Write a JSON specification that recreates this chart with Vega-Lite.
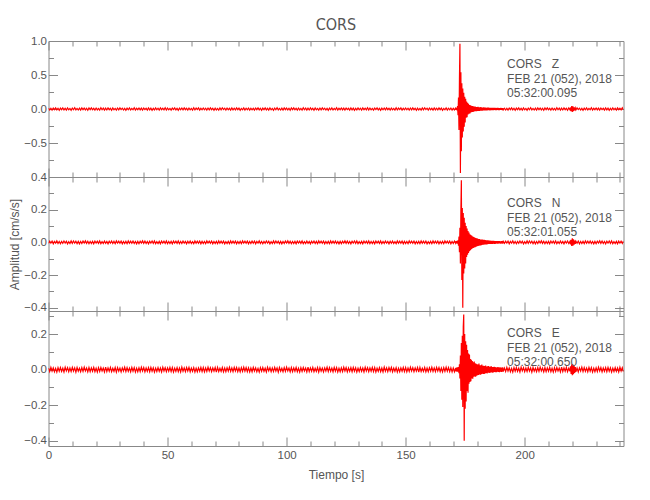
{
"$schema":"https://vega.github.io/schema/vega-lite/v6.json",
"padding":{"left":7.5,"top":16,"right":5,"bottom":5},
"background":"white",
"bounds":"flush",
"spacing":0,
"datasets":{
"w":[
{"t":0,"z":0.012,"n":-0.006,"e":0.009},{"t":0.5,"z":-0.015,"n":0.007,"e":-0.011},{"t":1,"z":0.009,"n":-0.005,"e":0.013},{"t":1.5,"z":-0.017,"n":0.008,"e":-0.008},{"t":2,"z":0.014,"n":-0.009,"e":0.010},{"t":2.5,"z":-0.010,"n":0.006,"e":-0.012},{"t":3,"z":0.016,"n":-0.004,"e":0.007},{"t":3.5,"z":-0.013,"n":0.009,"e":-0.014},{"t":4,"z":0.011,"n":-0.007,"e":0.011},{"t":4.5,"z":-0.018,"n":0.005,"e":-0.009},
{"t":5,"z":0.013,"n":-0.008,"e":0.012},{"t":5.5,"z":-0.009,"n":0.006,"e":-0.010},{"t":6,"z":0.017,"n":-0.006,"e":0.008},{"t":6.5,"z":-0.014,"n":0.008,"e":-0.013},{"t":7,"z":0.010,"n":-0.005,"e":0.014},{"t":7.5,"z":-0.016,"n":0.007,"e":-0.007},{"t":8,"z":0.015,"n":-0.009,"e":0.011},{"t":8.5,"z":-0.012,"n":0.004,"e":-0.012},{"t":9,"z":0.008,"n":-0.007,"e":0.009},{"t":9.5,"z":-0.019,"n":0.009,"e":-0.011},
{"t":10,"z":0.014,"n":-0.006,"e":0.013},{"t":10.5,"z":-0.011,"n":0.008,"e":-0.008},{"t":11,"z":0.018,"n":-0.005,"e":0.010},{"t":11.5,"z":-0.013,"n":0.007,"e":-0.014},{"t":12,"z":0.009,"n":-0.008,"e":0.012},{"t":12.5,"z":-0.015,"n":0.006,"e":-0.009},{"t":13,"z":0.012,"n":-0.009,"e":0.008},{"t":13.5,"z":-0.017,"n":0.005,"e":-0.012},{"t":14,"z":0.016,"n":-0.007,"e":0.011},{"t":14.5,"z":-0.010,"n":0.008,"e":-0.010},
{"t":15,"z":0.013,"n":-0.004,"e":0.014},{"t":15.5,"z":-0.014,"n":0.009,"e":-0.008},{"t":16,"z":0.011,"n":-0.006,"e":0.009},{"t":16.5,"z":-0.018,"n":0.007,"e":-0.013},{"t":17,"z":0.015,"n":-0.008,"e":0.012},{"t":17.5,"z":-0.009,"n":0.005,"e":-0.011},{"t":18,"z":0.017,"n":-0.007,"e":0.010},{"t":18.5,"z":-0.012,"n":0.006,"e":-0.009},{"t":19,"z":0.010,"n":-0.009,"e":0.013},{"t":19.5,"z":-0.016,"n":0.008,"e":-0.012},
{"t":20,"z":0.014,"n":-0.005,"e":0.008},{"t":20.5,"z":-0.013,"n":0.007,"e":-0.014},{"t":21,"z":0.009,"n":-0.006,"e":0.011},{"t":21.5,"z":-0.015,"n":0.009,"e":-0.010},{"t":22,"z":0.018,"n":-0.008,"e":0.012},{"t":22.5,"z":-0.011,"n":0.004,"e":-0.008},{"t":23,"z":0.012,"n":-0.007,"e":0.009},{"t":23.5,"z":-0.017,"n":0.008,"e":-0.013},{"t":24,"z":0.013,"n":-0.006,"e":0.014},{"t":24.5,"z":-0.014,"n":0.005,"e":-0.011},
{"t":25,"z":0.016,"n":-0.009,"e":0.010},{"t":25.5,"z":-0.010,"n":0.007,"e":-0.009},{"t":26,"z":0.011,"n":-0.005,"e":0.013},{"t":26.5,"z":-0.019,"n":0.008,"e":-0.012},{"t":27,"z":0.015,"n":-0.007,"e":0.008},{"t":27.5,"z":-0.012,"n":0.006,"e":-0.010},{"t":28,"z":0.008,"n":-0.008,"e":0.012},{"t":28.5,"z":-0.016,"n":0.009,"e":-0.014},{"t":29,"z":0.014,"n":-0.004,"e":0.011},{"t":29.5,"z":-0.013,"n":0.007,"e":-0.009},
{"t":30,"z":0.017,"n":-0.006,"e":0.009},{"t":30.5,"z":-0.009,"n":0.008,"e":-0.013},{"t":31,"z":0.012,"n":-0.009,"e":0.010},{"t":31.5,"z":-0.015,"n":0.005,"e":-0.008},{"t":32,"z":0.010,"n":-0.007,"e":0.014},{"t":32.5,"z":-0.018,"n":0.006,"e":-0.011},{"t":33,"z":0.013,"n":-0.008,"e":0.012},{"t":33.5,"z":-0.011,"n":0.009,"e":-0.010},{"t":34,"z":0.016,"n":-0.005,"e":0.009},{"t":34.5,"z":-0.014,"n":0.007,"e":-0.012},
{"t":35,"z":0.009,"n":-0.006,"e":0.013},{"t":35.5,"z":-0.012,"n":0.008,"e":-0.009},{"t":36,"z":0.018,"n":-0.007,"e":0.011},{"t":36.5,"z":-0.016,"n":0.005,"e":-0.014},{"t":37,"z":0.011,"n":-0.009,"e":0.008},{"t":37.5,"z":-0.010,"n":0.006,"e":-0.012},{"t":38,"z":0.015,"n":-0.008,"e":0.010},{"t":38.5,"z":-0.013,"n":0.007,"e":-0.011},{"t":39,"z":0.012,"n":-0.004,"e":0.014},{"t":39.5,"z":-0.017,"n":0.009,"e":-0.008},
{"t":40,"z":0.014,"n":-0.006,"e":0.012},{"t":40.5,"z":-0.009,"n":0.008,"e":-0.013},{"t":41,"z":0.010,"n":-0.007,"e":0.009},{"t":41.5,"z":-0.015,"n":0.005,"e":-0.010},{"t":42,"z":0.017,"n":-0.009,"e":0.011},{"t":42.5,"z":-0.012,"n":0.007,"e":-0.012},{"t":43,"z":0.013,"n":-0.005,"e":0.013},{"t":43.5,"z":-0.018,"n":0.008,"e":-0.009},{"t":44,"z":0.009,"n":-0.006,"e":0.010},{"t":44.5,"z":-0.014,"n":0.009,"e":-0.014},
{"t":45,"z":0.016,"n":-0.008,"e":0.008},{"t":45.5,"z":-0.011,"n":0.004,"e":-0.011},{"t":46,"z":0.012,"n":-0.007,"e":0.012},{"t":46.5,"z":-0.016,"n":0.006,"e":-0.010},{"t":47,"z":0.015,"n":-0.009,"e":0.009},{"t":47.5,"z":-0.010,"n":0.008,"e":-0.013},{"t":48,"z":0.011,"n":-0.005,"e":0.014},{"t":48.5,"z":-0.013,"n":0.007,"e":-0.008},{"t":49,"z":0.018,"n":-0.006,"e":0.011},{"t":49.5,"z":-0.015,"n":0.009,"e":-0.012},
{"t":50,"z":0.014,"n":-0.008,"e":0.010},{"t":50.5,"z":-0.012,"n":0.005,"e":-0.009},{"t":51,"z":0.008,"n":-0.007,"e":0.013},{"t":51.5,"z":-0.017,"n":0.006,"e":-0.011},{"t":52,"z":0.013,"n":-0.009,"e":0.012},{"t":52.5,"z":-0.009,"n":0.008,"e":-0.014},{"t":53,"z":0.016,"n":-0.004,"e":0.008},{"t":53.5,"z":-0.014,"n":0.007,"e":-0.010},{"t":54,"z":0.010,"n":-0.006,"e":0.011},{"t":54.5,"z":-0.018,"n":0.009,"e":-0.012},
{"t":55,"z":0.012,"n":-0.008,"e":0.009},{"t":55.5,"z":-0.011,"n":0.005,"e":-0.013},{"t":56,"z":0.015,"n":-0.007,"e":0.014},{"t":56.5,"z":-0.013,"n":0.008,"e":-0.009},{"t":57,"z":0.017,"n":-0.005,"e":0.010},{"t":57.5,"z":-0.010,"n":0.006,"e":-0.011},{"t":58,"z":0.011,"n":-0.009,"e":0.012},{"t":58.5,"z":-0.016,"n":0.007,"e":-0.008},{"t":59,"z":0.014,"n":-0.006,"e":0.013},{"t":59.5,"z":-0.012,"n":0.008,"e":-0.012},
{"t":60,"z":0.009,"n":-0.007,"e":0.009},{"t":60.5,"z":-0.015,"n":0.004,"e":-0.010},{"t":61,"z":0.018,"n":-0.008,"e":0.011},{"t":61.5,"z":-0.014,"n":0.009,"e":-0.014},{"t":62,"z":0.013,"n":-0.005,"e":0.008},{"t":62.5,"z":-0.009,"n":0.007,"e":-0.012},{"t":63,"z":0.016,"n":-0.006,"e":0.010},{"t":63.5,"z":-0.017,"n":0.008,"e":-0.009},{"t":64,"z":0.010,"n":-0.009,"e":0.013},{"t":64.5,"z":-0.012,"n":0.006,"e":-0.011},
{"t":65,"z":0.015,"n":-0.007,"e":0.012},{"t":65.5,"z":-0.011,"n":0.005,"e":-0.013},{"t":66,"z":0.012,"n":-0.008,"e":0.009},{"t":66.5,"z":-0.016,"n":0.009,"e":-0.010},{"t":67,"z":0.014,"n":-0.004,"e":0.014},{"t":67.5,"z":-0.013,"n":0.007,"e":-0.008},{"t":68,"z":0.017,"n":-0.006,"e":0.011},{"t":68.5,"z":-0.010,"n":0.008,"e":-0.012},{"t":69,"z":0.011,"n":-0.009,"e":0.010},{"t":69.5,"z":-0.018,"n":0.005,"e":-0.009},
{"t":70,"z":0.013,"n":-0.007,"e":0.012},{"t":70.5,"z":-0.014,"n":0.006,"e":-0.014},{"t":71,"z":0.009,"n":-0.008,"e":0.013},{"t":71.5,"z":-0.015,"n":0.009,"e":-0.011},{"t":72,"z":0.016,"n":-0.005,"e":0.008},{"t":72.5,"z":-0.012,"n":0.007,"e":-0.010},{"t":73,"z":0.018,"n":-0.006,"e":0.012},{"t":73.5,"z":-0.009,"n":0.008,"e":-0.013},{"t":74,"z":0.012,"n":-0.009,"e":0.009},{"t":74.5,"z":-0.017,"n":0.004,"e":-0.012},
{"t":75,"z":0.014,"n":-0.007,"e":0.011},{"t":75.5,"z":-0.011,"n":0.006,"e":-0.009},{"t":76,"z":0.010,"n":-0.008,"e":0.014},{"t":76.5,"z":-0.016,"n":0.009,"e":-0.010},{"t":77,"z":0.015,"n":-0.005,"e":0.010},{"t":77.5,"z":-0.013,"n":0.007,"e":-0.011},{"t":78,"z":0.011,"n":-0.006,"e":0.013},{"t":78.5,"z":-0.014,"n":0.008,"e":-0.008},{"t":79,"z":0.017,"n":-0.009,"e":0.012},{"t":79.5,"z":-0.010,"n":0.005,"e":-0.012},
{"t":80,"z":0.013,"n":-0.007,"e":0.009},{"t":80.5,"z":-0.018,"n":0.006,"e":-0.013},{"t":81,"z":0.009,"n":-0.008,"e":0.011},{"t":81.5,"z":-0.012,"n":0.009,"e":-0.010},{"t":82,"z":0.016,"n":-0.004,"e":0.014},{"t":82.5,"z":-0.015,"n":0.007,"e":-0.009},{"t":83,"z":0.012,"n":-0.006,"e":0.012},{"t":83.5,"z":-0.011,"n":0.008,"e":-0.011},{"t":84,"z":0.014,"n":-0.009,"e":0.010},{"t":84.5,"z":-0.016,"n":0.005,"e":-0.013},
{"t":85,"z":0.010,"n":-0.007,"e":0.009},{"t":85.5,"z":-0.013,"n":0.008,"e":-0.012},
{"t":86,"z":0.009,"n":-0.005,"e":0.013},{"t":86.5,"z":-0.017,"n":0.008,"e":-0.008},{"t":87,"z":0.014,"n":-0.009,"e":0.010},{"t":87.5,"z":-0.010,"n":0.006,"e":-0.012},{"t":88,"z":0.016,"n":-0.004,"e":0.007},{"t":88.5,"z":-0.013,"n":0.009,"e":-0.014},{"t":89,"z":0.011,"n":-0.007,"e":0.011},{"t":89.5,"z":-0.018,"n":0.005,"e":-0.009},
{"t":90,"z":0.013,"n":-0.008,"e":0.012},{"t":90.5,"z":-0.009,"n":0.006,"e":-0.010},{"t":91,"z":0.017,"n":-0.006,"e":0.008},{"t":91.5,"z":-0.014,"n":0.008,"e":-0.013},{"t":92,"z":0.010,"n":-0.005,"e":0.014},{"t":92.5,"z":-0.016,"n":0.007,"e":-0.007},{"t":93,"z":0.015,"n":-0.009,"e":0.011},{"t":93.5,"z":-0.012,"n":0.004,"e":-0.012},{"t":94,"z":0.008,"n":-0.007,"e":0.009},{"t":94.5,"z":-0.019,"n":0.009,"e":-0.011},
{"t":95,"z":0.014,"n":-0.006,"e":0.013},{"t":95.5,"z":-0.011,"n":0.008,"e":-0.008},{"t":96,"z":0.018,"n":-0.005,"e":0.010},{"t":96.5,"z":-0.013,"n":0.007,"e":-0.014},{"t":97,"z":0.009,"n":-0.008,"e":0.012},{"t":97.5,"z":-0.015,"n":0.006,"e":-0.009},{"t":98,"z":0.012,"n":-0.009,"e":0.008},{"t":98.5,"z":-0.017,"n":0.005,"e":-0.012},{"t":99,"z":0.016,"n":-0.007,"e":0.011},{"t":99.5,"z":-0.010,"n":0.008,"e":-0.010},
{"t":100,"z":0.013,"n":-0.004,"e":0.014},{"t":100.5,"z":-0.014,"n":0.009,"e":-0.008},{"t":101,"z":0.011,"n":-0.006,"e":0.009},{"t":101.5,"z":-0.018,"n":0.007,"e":-0.013},{"t":102,"z":0.015,"n":-0.008,"e":0.012},{"t":102.5,"z":-0.009,"n":0.005,"e":-0.011},{"t":103,"z":0.017,"n":-0.007,"e":0.010},{"t":103.5,"z":-0.012,"n":0.006,"e":-0.009},{"t":104,"z":0.010,"n":-0.009,"e":0.013},{"t":104.5,"z":-0.016,"n":0.008,"e":-0.012},
{"t":105,"z":0.014,"n":-0.005,"e":0.008},{"t":105.5,"z":-0.013,"n":0.007,"e":-0.014},{"t":106,"z":0.009,"n":-0.006,"e":0.011},{"t":106.5,"z":-0.015,"n":0.009,"e":-0.010},{"t":107,"z":0.018,"n":-0.008,"e":0.012},{"t":107.5,"z":-0.011,"n":0.004,"e":-0.008},{"t":108,"z":0.012,"n":-0.007,"e":0.009},{"t":108.5,"z":-0.017,"n":0.008,"e":-0.013},{"t":109,"z":0.013,"n":-0.006,"e":0.014},{"t":109.5,"z":-0.014,"n":0.005,"e":-0.011},
{"t":110,"z":0.016,"n":-0.009,"e":0.010},{"t":110.5,"z":-0.010,"n":0.007,"e":-0.009},{"t":111,"z":0.011,"n":-0.005,"e":0.013},{"t":111.5,"z":-0.019,"n":0.008,"e":-0.012},{"t":112,"z":0.015,"n":-0.007,"e":0.008},{"t":112.5,"z":-0.012,"n":0.006,"e":-0.010},{"t":113,"z":0.008,"n":-0.008,"e":0.012},{"t":113.5,"z":-0.016,"n":0.009,"e":-0.014},{"t":114,"z":0.014,"n":-0.004,"e":0.011},{"t":114.5,"z":-0.013,"n":0.007,"e":-0.009},
{"t":115,"z":0.017,"n":-0.006,"e":0.009},{"t":115.5,"z":-0.009,"n":0.008,"e":-0.013},{"t":116,"z":0.012,"n":-0.009,"e":0.010},{"t":116.5,"z":-0.015,"n":0.005,"e":-0.008},{"t":117,"z":0.010,"n":-0.007,"e":0.014},{"t":117.5,"z":-0.018,"n":0.006,"e":-0.011},{"t":118,"z":0.013,"n":-0.008,"e":0.012},{"t":118.5,"z":-0.011,"n":0.009,"e":-0.010},{"t":119,"z":0.016,"n":-0.005,"e":0.009},{"t":119.5,"z":-0.014,"n":0.007,"e":-0.012},
{"t":120,"z":0.009,"n":-0.006,"e":0.013},{"t":120.5,"z":-0.012,"n":0.008,"e":-0.009},{"t":121,"z":0.018,"n":-0.007,"e":0.011},{"t":121.5,"z":-0.016,"n":0.005,"e":-0.014},{"t":122,"z":0.011,"n":-0.009,"e":0.008},{"t":122.5,"z":-0.010,"n":0.006,"e":-0.012},{"t":123,"z":0.015,"n":-0.008,"e":0.010},{"t":123.5,"z":-0.013,"n":0.007,"e":-0.011},{"t":124,"z":0.012,"n":-0.004,"e":0.014},{"t":124.5,"z":-0.017,"n":0.009,"e":-0.008},
{"t":125,"z":0.014,"n":-0.006,"e":0.012},{"t":125.5,"z":-0.009,"n":0.008,"e":-0.013},{"t":126,"z":0.010,"n":-0.007,"e":0.009},{"t":126.5,"z":-0.015,"n":0.005,"e":-0.010},{"t":127,"z":0.017,"n":-0.009,"e":0.011},{"t":127.5,"z":-0.012,"n":0.007,"e":-0.012},{"t":128,"z":0.013,"n":-0.005,"e":0.013},{"t":128.5,"z":-0.018,"n":0.008,"e":-0.009},{"t":129,"z":0.009,"n":-0.006,"e":0.010},{"t":129.5,"z":-0.014,"n":0.009,"e":-0.014},
{"t":130,"z":0.016,"n":-0.008,"e":0.008},{"t":130.5,"z":-0.011,"n":0.004,"e":-0.011},{"t":131,"z":0.012,"n":-0.007,"e":0.012},{"t":131.5,"z":-0.016,"n":0.006,"e":-0.010},{"t":132,"z":0.015,"n":-0.009,"e":0.009},{"t":132.5,"z":-0.010,"n":0.008,"e":-0.013},{"t":133,"z":0.011,"n":-0.005,"e":0.014},{"t":133.5,"z":-0.013,"n":0.007,"e":-0.008},{"t":134,"z":0.018,"n":-0.006,"e":0.011},{"t":134.5,"z":-0.015,"n":0.009,"e":-0.012},
{"t":135,"z":0.014,"n":-0.008,"e":0.010},{"t":135.5,"z":-0.012,"n":0.005,"e":-0.009},{"t":136,"z":0.008,"n":-0.007,"e":0.013},{"t":136.5,"z":-0.017,"n":0.006,"e":-0.011},{"t":137,"z":0.013,"n":-0.009,"e":0.012},{"t":137.5,"z":-0.009,"n":0.008,"e":-0.014},{"t":138,"z":0.016,"n":-0.004,"e":0.008},{"t":138.5,"z":-0.014,"n":0.007,"e":-0.010},{"t":139,"z":0.010,"n":-0.006,"e":0.011},{"t":139.5,"z":-0.018,"n":0.009,"e":-0.012},
{"t":140,"z":0.012,"n":-0.008,"e":0.009},{"t":140.5,"z":-0.011,"n":0.005,"e":-0.013},{"t":141,"z":0.015,"n":-0.007,"e":0.014},{"t":141.5,"z":-0.013,"n":0.008,"e":-0.009},{"t":142,"z":0.017,"n":-0.005,"e":0.010},{"t":142.5,"z":-0.010,"n":0.006,"e":-0.011},{"t":143,"z":0.011,"n":-0.009,"e":0.012},{"t":143.5,"z":-0.016,"n":0.007,"e":-0.008},{"t":144,"z":0.014,"n":-0.006,"e":0.013},{"t":144.5,"z":-0.012,"n":0.008,"e":-0.012},
{"t":145,"z":0.009,"n":-0.007,"e":0.009},{"t":145.5,"z":-0.015,"n":0.004,"e":-0.010},{"t":146,"z":0.018,"n":-0.008,"e":0.011},{"t":146.5,"z":-0.014,"n":0.009,"e":-0.014},{"t":147,"z":0.013,"n":-0.005,"e":0.008},{"t":147.5,"z":-0.009,"n":0.007,"e":-0.012},{"t":148,"z":0.016,"n":-0.006,"e":0.010},{"t":148.5,"z":-0.017,"n":0.008,"e":-0.009},{"t":149,"z":0.010,"n":-0.009,"e":0.013},{"t":149.5,"z":-0.012,"n":0.006,"e":-0.011},
{"t":150,"z":0.015,"n":-0.007,"e":0.012},{"t":150.5,"z":-0.011,"n":0.005,"e":-0.013},{"t":151,"z":0.012,"n":-0.008,"e":0.009},{"t":151.5,"z":-0.016,"n":0.009,"e":-0.010},{"t":152,"z":0.014,"n":-0.004,"e":0.014},{"t":152.5,"z":-0.013,"n":0.007,"e":-0.008},{"t":153,"z":0.017,"n":-0.006,"e":0.011},{"t":153.5,"z":-0.010,"n":0.008,"e":-0.012},{"t":154,"z":0.011,"n":-0.009,"e":0.010},{"t":154.5,"z":-0.018,"n":0.005,"e":-0.009},
{"t":155,"z":0.013,"n":-0.007,"e":0.012},{"t":155.5,"z":-0.014,"n":0.006,"e":-0.014},{"t":156,"z":0.009,"n":-0.008,"e":0.013},{"t":156.5,"z":-0.015,"n":0.009,"e":-0.011},{"t":157,"z":0.016,"n":-0.005,"e":0.008},{"t":157.5,"z":-0.012,"n":0.007,"e":-0.010},{"t":158,"z":0.018,"n":-0.006,"e":0.012},{"t":158.5,"z":-0.009,"n":0.008,"e":-0.013},{"t":159,"z":0.012,"n":-0.009,"e":0.009},{"t":159.5,"z":-0.017,"n":0.004,"e":-0.012},
{"t":160,"z":0.014,"n":-0.007,"e":0.011},{"t":160.5,"z":-0.011,"n":0.006,"e":-0.009},{"t":161,"z":0.010,"n":-0.008,"e":0.014},{"t":161.5,"z":-0.016,"n":0.009,"e":-0.010},{"t":162,"z":0.015,"n":-0.005,"e":0.010},{"t":162.5,"z":-0.013,"n":0.007,"e":-0.011},{"t":163,"z":0.011,"n":-0.006,"e":0.013},{"t":163.5,"z":-0.014,"n":0.008,"e":-0.008},{"t":164,"z":0.017,"n":-0.009,"e":0.012},{"t":164.5,"z":-0.010,"n":0.005,"e":-0.012},
{"t":165,"z":0.013,"n":-0.007,"e":0.009},{"t":165.5,"z":-0.018,"n":0.006,"e":-0.013},{"t":166,"z":0.009,"n":-0.008,"e":0.011},{"t":166.5,"z":-0.012,"n":0.009,"e":-0.010},{"t":167,"z":0.016,"n":-0.004,"e":0.014},{"t":167.5,"z":-0.015,"n":0.007,"e":-0.009},{"t":168,"z":0.012,"n":-0.006,"e":0.012},{"t":168.5,"z":-0.011,"n":0.008,"e":-0.011},{"t":169,"z":0.014,"n":-0.009,"e":0.010},{"t":169.5,"z":-0.016,"n":0.005,"e":-0.013},
{"t":170,"z":0.010,"n":-0.007,"e":0.009},{"t":170.5,"z":-0.013,"n":0.008,"e":-0.012},{"t":171,"z":0.012,"n":-0.006,"e":0.009},
{"t":171.2,"z":-0.014,"n":0.008,"e":-0.010},{"t":171.4,"z":0.016,"n":-0.007,"e":0.012},{"t":171.6,"z":-0.022,"n":0.009,"e":-0.011},{"t":171.8,"z":0.045,"n":-0.008,"e":0.013},{"t":172,"z":-0.090,"n":0.012,"e":-0.012},
{"t":172.2,"z":0.170,"n":-0.020,"e":0.015},{"t":172.4,"z":-0.310,"n":0.035,"e":-0.020},{"t":172.6,"z":0.450,"n":-0.060,"e":0.030},{"t":172.8,"z":0.960,"n":0.090,"e":-0.050},{"t":173,"z":-0.940,"n":-0.130,"e":0.080},
{"t":173.2,"z":0.540,"n":0.190,"e":-0.120},{"t":173.4,"z":-0.620,"n":0.380,"e":0.150},{"t":173.6,"z":0.380,"n":-0.230,"e":-0.170},{"t":173.8,"z":-0.420,"n":0.210,"e":0.190},{"t":174,"z":0.300,"n":-0.400,"e":-0.210},
{"t":174.2,"z":-0.330,"n":0.180,"e":0.240},{"t":174.4,"z":0.240,"n":-0.190,"e":0.310},{"t":174.6,"z":-0.260,"n":0.150,"e":-0.400},{"t":174.8,"z":0.180,"n":-0.160,"e":0.200},{"t":175,"z":-0.200,"n":0.120,"e":-0.220},
{"t":175.2,"z":0.150,"n":-0.130,"e":0.160},{"t":175.4,"z":-0.130,"n":0.100,"e":-0.180},{"t":175.6,"z":0.110,"n":-0.090,"e":0.140},{"t":175.8,"z":-0.120,"n":0.085,"e":-0.120},{"t":176,"z":0.090,"n":-0.075,"e":0.110},
{"t":176.2,"z":-0.080,"n":0.070,"e":-0.130},{"t":176.4,"z":0.075,"n":-0.065,"e":0.090},{"t":176.6,"z":-0.070,"n":0.060,"e":-0.080},{"t":176.8,"z":0.060,"n":-0.055,"e":0.085},{"t":177,"z":-0.065,"n":0.050,"e":-0.070},
{"t":177.2,"z":0.055,"n":-0.048,"e":0.060},{"t":177.4,"z":-0.050,"n":0.045,"e":-0.065},{"t":177.6,"z":0.048,"n":-0.042,"e":0.055},{"t":177.8,"z":-0.045,"n":0.040,"e":-0.050},{"t":178,"z":0.042,"n":-0.038,"e":0.048},
{"t":178.2,"z":-0.044,"n":0.036,"e":-0.052},{"t":178.4,"z":0.038,"n":-0.034,"e":0.042},{"t":178.6,"z":-0.040,"n":0.033,"e":-0.040},{"t":178.8,"z":0.036,"n":-0.031,"e":0.045},{"t":179,"z":-0.034,"n":0.030,"e":-0.038},
{"t":179.2,"z":0.035,"n":-0.029,"e":0.036},{"t":179.4,"z":-0.032,"n":0.027,"e":-0.040},{"t":179.6,"z":0.030,"n":-0.026,"e":0.033},{"t":179.8,"z":-0.033,"n":0.025,"e":-0.035},{"t":180,"z":0.029,"n":-0.024,"e":0.030},
{"t":180.2,"z":-0.028,"n":0.023,"e":-0.032},{"t":180.4,"z":0.031,"n":-0.022,"e":0.028},{"t":180.6,"z":-0.027,"n":0.021,"e":-0.030},{"t":180.8,"z":0.026,"n":-0.020,"e":0.034},{"t":181,"z":-0.029,"n":0.021,"e":-0.027},
{"t":181.2,"z":0.025,"n":-0.019,"e":0.025},{"t":181.4,"z":-0.024,"n":0.018,"e":-0.029},{"t":181.6,"z":0.027,"n":-0.019,"e":0.024},{"t":181.8,"z":-0.023,"n":0.017,"e":-0.026},{"t":182,"z":0.022,"n":-0.016,"e":0.028},
{"t":182.2,"z":-0.025,"n":0.017,"e":-0.023},{"t":182.4,"z":0.021,"n":-0.015,"e":0.022},{"t":182.6,"z":-0.022,"n":0.016,"e":-0.025},{"t":182.8,"z":0.024,"n":-0.014,"e":0.021},{"t":183,"z":-0.020,"n":0.015,"e":-0.024},
{"t":183.2,"z":0.021,"n":-0.013,"e":0.020},{"t":183.4,"z":-0.019,"n":0.014,"e":-0.022},{"t":183.6,"z":0.022,"n":-0.013,"e":0.023},{"t":183.8,"z":-0.020,"n":0.012,"e":-0.019},{"t":184,"z":0.018,"n":-0.013,"e":0.018},
{"t":184.2,"z":-0.021,"n":0.012,"e":-0.021},{"t":184.4,"z":0.019,"n":-0.011,"e":0.019},{"t":184.6,"z":-0.017,"n":0.012,"e":-0.017},{"t":184.8,"z":0.020,"n":-0.010,"e":0.020},{"t":185,"z":-0.018,"n":0.011,"e":-0.018},
{"t":185.2,"z":0.017,"n":-0.010,"e":0.016},{"t":185.4,"z":-0.019,"n":0.011,"e":-0.019},{"t":185.6,"z":0.016,"n":-0.009,"e":0.017},{"t":185.8,"z":-0.018,"n":0.010,"e":-0.015},{"t":186,"z":0.017,"n":-0.010,"e":0.018},
{"t":186.2,"z":-0.015,"n":0.009,"e":-0.016},{"t":186.4,"z":0.018,"n":-0.010,"e":0.014},{"t":186.6,"z":-0.016,"n":0.009,"e":-0.017},{"t":186.8,"z":0.015,"n":-0.008,"e":0.015},{"t":187,"z":-0.017,"n":0.009,"e":-0.014},
{"t":187.2,"z":0.016,"n":-0.009,"e":0.016},{"t":187.4,"z":-0.014,"n":0.008,"e":-0.013},{"t":187.6,"z":0.017,"n":-0.009,"e":0.015},{"t":187.8,"z":-0.015,"n":0.008,"e":-0.014},{"t":188,"z":0.014,"n":-0.007,"e":0.012},
{"t":188.2,"z":-0.016,"n":0.008,"e":-0.015},{"t":188.4,"z":0.015,"n":-0.008,"e":0.013},{"t":188.6,"z":-0.013,"n":0.007,"e":-0.012},{"t":188.8,"z":0.016,"n":-0.008,"e":0.014},{"t":189,"z":-0.015,"n":0.007,"e":-0.013},
{"t":189.2,"z":0.013,"n":-0.006,"e":0.012},{"t":189.4,"z":-0.016,"n":0.008,"e":-0.014},{"t":189.6,"z":0.014,"n":-0.007,"e":0.013},{"t":189.8,"z":-0.013,"n":0.006,"e":-0.011},{"t":190,"z":0.015,"n":-0.008,"e":0.012},
{"t":190.2,"z":-0.014,"n":0.007,"e":-0.013},{"t":190.4,"z":0.013,"n":-0.006,"e":0.011},{"t":190.6,"z":-0.015,"n":0.007,"e":-0.012},{"t":190.8,"z":0.014,"n":-0.008,"e":0.013},{"t":191,"z":-0.012,"n":0.006,"e":-0.011},
{"t":191.5,"z":0.012,"n":-0.006,"e":0.009},{"t":192,"z":-0.015,"n":0.007,"e":-0.011},{"t":192.5,"z":0.009,"n":-0.005,"e":0.013},{"t":193,"z":-0.017,"n":0.008,"e":-0.008},{"t":193.5,"z":0.014,"n":-0.009,"e":0.010},{"t":194,"z":-0.010,"n":0.006,"e":-0.012},{"t":194.5,"z":0.016,"n":-0.004,"e":0.007},{"t":195,"z":-0.013,"n":0.009,"e":-0.014},{"t":195.5,"z":0.011,"n":-0.007,"e":0.011},{"t":196,"z":-0.018,"n":0.005,"e":-0.009},
{"t":196.5,"z":0.013,"n":-0.008,"e":0.012},{"t":197,"z":-0.009,"n":0.006,"e":-0.010},{"t":197.5,"z":0.017,"n":-0.006,"e":0.008},{"t":198,"z":-0.014,"n":0.008,"e":-0.013},{"t":198.5,"z":0.010,"n":-0.005,"e":0.014},{"t":199,"z":-0.016,"n":0.007,"e":-0.007},{"t":199.5,"z":0.015,"n":-0.009,"e":0.011},{"t":200,"z":-0.012,"n":0.004,"e":-0.012},{"t":200.5,"z":0.008,"n":-0.007,"e":0.009},{"t":201,"z":-0.019,"n":0.009,"e":-0.011},
{"t":201.5,"z":0.014,"n":-0.006,"e":0.013},{"t":202,"z":-0.011,"n":0.008,"e":-0.008},{"t":202.5,"z":0.018,"n":-0.005,"e":0.010},{"t":203,"z":-0.013,"n":0.007,"e":-0.014},{"t":203.5,"z":0.009,"n":-0.008,"e":0.012},{"t":204,"z":-0.015,"n":0.006,"e":-0.009},{"t":204.5,"z":0.012,"n":-0.009,"e":0.008},{"t":205,"z":-0.017,"n":0.005,"e":-0.012},{"t":205.5,"z":0.016,"n":-0.007,"e":0.011},{"t":206,"z":-0.010,"n":0.008,"e":-0.010},
{"t":206.5,"z":0.013,"n":-0.004,"e":0.014},{"t":207,"z":-0.014,"n":0.009,"e":-0.008},{"t":207.5,"z":0.011,"n":-0.006,"e":0.009},{"t":208,"z":-0.018,"n":0.007,"e":-0.013},{"t":208.5,"z":0.015,"n":-0.008,"e":0.012},{"t":209,"z":-0.009,"n":0.005,"e":-0.011},{"t":209.5,"z":0.017,"n":-0.007,"e":0.010},{"t":210,"z":-0.012,"n":0.006,"e":-0.009},{"t":210.5,"z":0.010,"n":-0.009,"e":0.013},{"t":211,"z":-0.016,"n":0.008,"e":-0.012},
{"t":211.5,"z":0.014,"n":-0.005,"e":0.008},{"t":212,"z":-0.013,"n":0.007,"e":-0.014},{"t":212.5,"z":0.009,"n":-0.006,"e":0.011},{"t":213,"z":-0.015,"n":0.009,"e":-0.010},{"t":213.5,"z":0.018,"n":-0.008,"e":0.012},{"t":214,"z":-0.011,"n":0.004,"e":-0.008},{"t":214.5,"z":0.012,"n":-0.007,"e":0.009},{"t":215,"z":-0.017,"n":0.008,"e":-0.013},{"t":215.5,"z":0.013,"n":-0.006,"e":0.014},{"t":216,"z":-0.014,"n":0.005,"e":-0.011},
{"t":216.5,"z":0.016,"n":-0.009,"e":0.010},{"t":217,"z":-0.010,"n":0.007,"e":-0.009},{"t":217.5,"z":0.011,"n":-0.005,"e":0.013},{"t":218,"z":-0.019,"n":0.008,"e":-0.012},{"t":218.5,"z":0.015,"n":-0.007,"e":0.008},{"t":219,"z":-0.012,"n":0.006,"e":-0.010},
{"t":219.25,"z":0.022,"n":-0.012,"e":0.018},{"t":219.5,"z":-0.030,"n":0.016,"e":-0.024},{"t":219.75,"z":0.042,"n":-0.022,"e":0.030},{"t":220,"z":-0.045,"n":0.025,"e":-0.032},{"t":220.25,"z":0.038,"n":-0.020,"e":0.028},{"t":220.5,"z":-0.032,"n":0.018,"e":-0.026},{"t":220.75,"z":0.025,"n":-0.014,"e":0.022},{"t":221,"z":-0.020,"n":0.011,"e":-0.018},{"t":221.25,"z":0.016,"n":-0.009,"e":0.015},{"t":221.5,"z":-0.013,"n":0.007,"e":-0.013},
{"t":222,"z":0.017,"n":-0.006,"e":0.009},{"t":222.5,"z":-0.009,"n":0.008,"e":-0.013},{"t":223,"z":0.012,"n":-0.009,"e":0.010},{"t":223.5,"z":-0.015,"n":0.005,"e":-0.008},{"t":224,"z":0.010,"n":-0.007,"e":0.014},{"t":224.5,"z":-0.018,"n":0.006,"e":-0.011},{"t":225,"z":0.013,"n":-0.008,"e":0.012},{"t":225.5,"z":-0.011,"n":0.009,"e":-0.010},{"t":226,"z":0.016,"n":-0.005,"e":0.009},{"t":226.5,"z":-0.014,"n":0.007,"e":-0.012},
{"t":227,"z":0.009,"n":-0.006,"e":0.013},{"t":227.5,"z":-0.012,"n":0.008,"e":-0.009},{"t":228,"z":0.018,"n":-0.007,"e":0.011},{"t":228.5,"z":-0.016,"n":0.005,"e":-0.014},{"t":229,"z":0.011,"n":-0.009,"e":0.008},{"t":229.5,"z":-0.010,"n":0.006,"e":-0.012},{"t":230,"z":0.015,"n":-0.008,"e":0.010},{"t":230.5,"z":-0.013,"n":0.007,"e":-0.011},{"t":231,"z":0.012,"n":-0.004,"e":0.014},{"t":231.5,"z":-0.017,"n":0.009,"e":-0.008},
{"t":232,"z":0.014,"n":-0.006,"e":0.012},{"t":232.5,"z":-0.009,"n":0.008,"e":-0.013},{"t":233,"z":0.010,"n":-0.007,"e":0.009},{"t":233.5,"z":-0.015,"n":0.005,"e":-0.010},{"t":234,"z":0.017,"n":-0.009,"e":0.011},{"t":234.5,"z":-0.012,"n":0.007,"e":-0.012},{"t":235,"z":0.013,"n":-0.005,"e":0.013},{"t":235.5,"z":-0.018,"n":0.008,"e":-0.009},{"t":236,"z":0.009,"n":-0.006,"e":0.010},{"t":236.5,"z":-0.014,"n":0.009,"e":-0.014},
{"t":237,"z":0.016,"n":-0.008,"e":0.008},{"t":237.5,"z":-0.011,"n":0.004,"e":-0.011},{"t":238,"z":0.012,"n":-0.007,"e":0.012},{"t":238.5,"z":-0.016,"n":0.006,"e":-0.010},{"t":239,"z":0.015,"n":-0.009,"e":0.009},{"t":239.5,"z":-0.010,"n":0.008,"e":-0.013},{"t":240,"z":0.011,"n":-0.005,"e":0.014},{"t":240.5,"z":-0.013,"n":0.007,"e":-0.008},{"t":241,"z":0.018,"n":-0.006,"e":0.011},{"t":241.5,"z":-0.015,"n":0.009,"e":-0.012}
],
"notes":[
{"c":"Z","t":192.6,"a":0.731,"s":["CORS\u00a0\u00a0\u00a0Z","FEB 21 (052), 2018","05:32:00.095"]},
{"c":"N","t":192.6,"a":0.27,"s":["CORS\u00a0\u00a0\u00a0N","FEB 21 (052), 2018","05:32:01.055"]},
{"c":"E","t":192.6,"a":0.233,"s":["CORS\u00a0\u00a0\u00a0E","FEB 21 (052), 2018","05:32:00.650"]}
]
},
"vconcat":[
{
"width":575,"height":136,
"title":{"text":"CORS","font":"DejaVu Sans Condensed, Liberation Sans","fontSize":16,"fontWeight":"normal","color":"#555","anchor":"middle","frame":"group","baseline":"alphabetic","offset":-11},
"layer":[
{"data":{"name":"w"},"mark":{"type":"line","color":"#ff0000","strokeWidth":1.2,"clip":true},
"encoding":{
"x":{"field":"t","type":"quantitative","scale":{"domain":[0,241.5],"nice":false,"zero":false},
"axis":{"orient":"bottom","title":null,"labels":false,"values":[0,10,20,30,40,50,60,70,80,90,100,110,120,130,140,150,160,170,180,190,200,210,220,230,240],
"tickSize":{"condition":{"test":"datum.value % 50 === 0","value":-9},"value":-5}}},
"y":{"field":"z","type":"quantitative","scale":{"domain":[-1,1],"nice":false,"zero":false},
"axis":{"orient":"left","title":null,"values":[-1,-0.75,-0.5,-0.25,0,0.25,0.5,0.75,1],
"labelExpr":"abs(datum.value*2-round(datum.value*2))<0.001 && datum.value>-0.99 ? format(datum.value,'.1f') : ''",
"labelPadding":11,
"tickSize":{"condition":{"test":"abs(datum.value*2-round(datum.value*2))<0.001","value":-9},"value":-5}}}
}},
{"data":{"values":[{"t":0,"z":0}]},"mark":{"type":"point","opacity":0},
"encoding":{
"x":{"field":"t","type":"quantitative","scale":{"domain":[0,241.5],"nice":false,"zero":false},
"axis":{"orient":"top","title":null,"labels":false,"values":[0,10,20,30,40,50,60,70,80,90,100,110,120,130,140,150,160,170,180,190,200,210,220,230,240],
"tickSize":{"condition":{"test":"datum.value % 50 === 0","value":-9},"value":-5}}},
"y":{"field":"z","type":"quantitative","scale":{"domain":[-1,1],"nice":false,"zero":false},
"axis":{"orient":"right","title":null,"labels":false,"values":[-1,-0.75,-0.5,-0.25,0,0.25,0.5,0.75,1],
"tickSize":{"condition":{"test":"abs(datum.value*2-round(datum.value*2))<0.001","value":-9},"value":-5}}}
}},
{"data":{"name":"notes"},"transform":[{"filter":"datum.c==='Z'"}],
"mark":{"type":"text","align":"left","baseline":"top","font":"Liberation Sans","fontSize":12,"color":"#555","lineHeight":14.5},
"encoding":{
"x":{"field":"t","type":"quantitative","scale":{"domain":[0,241.5],"nice":false,"zero":false},"axis":null},
"y":{"field":"a","type":"quantitative","scale":{"domain":[-1,1],"nice":false,"zero":false},"axis":null},
"text":{"field":"s"}}}
],
"resolve":{"axis":{"x":"independent","y":"independent"}}
},
{
"width":575,"height":134,
"layer":[
{"data":{"name":"w"},"mark":{"type":"line","color":"#ff0000","strokeWidth":1.2,"clip":true},
"encoding":{
"x":{"field":"t","type":"quantitative","scale":{"domain":[0,241.5],"nice":false,"zero":false},
"axis":{"orient":"bottom","title":null,"labels":false,"values":[0,10,20,30,40,50,60,70,80,90,100,110,120,130,140,150,160,170,180,190,200,210,220,230,240],
"tickSize":{"condition":{"test":"datum.value % 50 === 0","value":-9},"value":-5}}},
"y":{"field":"n","type":"quantitative","scale":{"domain":[-0.42,0.4],"nice":false,"zero":false},
"axis":{"orient":"left","title":"Amplitud [cm/s/s]","titlePadding":2.5,"values":[-0.4,-0.3,-0.2,-0.1,0,0.1,0.2,0.3,0.4],
"labelExpr":"abs(datum.value*5-round(datum.value*5))<0.001 ? format(datum.value,'.1f') : ''",
"labelPadding":11,
"tickSize":{"condition":{"test":"abs(datum.value*5-round(datum.value*5))<0.001","value":-9},"value":-5}}}
}},
{"data":{"values":[{"t":0,"n":0}]},"mark":{"type":"point","opacity":0},
"encoding":{
"x":{"field":"t","type":"quantitative","scale":{"domain":[0,241.5],"nice":false,"zero":false},
"axis":{"orient":"top","title":null,"labels":false,"values":[0,10,20,30,40,50,60,70,80,90,100,110,120,130,140,150,160,170,180,190,200,210,220,230,240],
"tickSize":{"condition":{"test":"datum.value % 50 === 0","value":-9},"value":-5}}},
"y":{"field":"n","type":"quantitative","scale":{"domain":[-0.42,0.4],"nice":false,"zero":false},
"axis":{"orient":"right","title":null,"labels":false,"values":[-0.4,-0.3,-0.2,-0.1,0,0.1,0.2,0.3,0.4],
"tickSize":{"condition":{"test":"abs(datum.value*5-round(datum.value*5))<0.001","value":-9},"value":-5}}}
}},
{"data":{"name":"notes"},"transform":[{"filter":"datum.c==='N'"}],
"mark":{"type":"text","align":"left","baseline":"top","font":"Liberation Sans","fontSize":12,"color":"#555","lineHeight":14.5},
"encoding":{
"x":{"field":"t","type":"quantitative","scale":{"domain":[0,241.5],"nice":false,"zero":false},"axis":null},
"y":{"field":"a","type":"quantitative","scale":{"domain":[-0.42,0.4],"nice":false,"zero":false},"axis":null},
"text":{"field":"s"}}}
],
"resolve":{"axis":{"x":"independent","y":"independent"}}
},
{
"width":575,"height":135,
"layer":[
{"data":{"name":"w"},"mark":{"type":"line","color":"#ff0000","strokeWidth":1.2,"clip":true},
"encoding":{
"x":{"field":"t","type":"quantitative","scale":{"domain":[0,241.5],"nice":false,"zero":false},
"axis":{"orient":"bottom","title":"Tiempo [s]","titlePadding":5,"values":[0,10,20,30,40,50,60,70,80,90,100,110,120,130,140,150,160,170,180,190,200,210,220,230,240],
"labelExpr":"datum.value % 50 === 0 ? datum.label : ''","labelPadding":12,
"tickSize":{"condition":{"test":"datum.value % 50 === 0","value":-9},"value":-5}}},
"y":{"field":"e","type":"quantitative","scale":{"domain":[-0.43,0.33],"nice":false,"zero":false},
"axis":{"orient":"left","title":null,"values":[-0.4,-0.3,-0.2,-0.1,0,0.1,0.2,0.3],
"labelExpr":"abs(datum.value*5-round(datum.value*5))<0.001 ? format(datum.value,'.1f') : ''",
"labelPadding":11,
"tickSize":{"condition":{"test":"abs(datum.value*5-round(datum.value*5))<0.001","value":-9},"value":-5}}}
}},
{"data":{"values":[{"t":0,"e":0}]},"mark":{"type":"point","opacity":0},
"encoding":{
"x":{"field":"t","type":"quantitative","scale":{"domain":[0,241.5],"nice":false,"zero":false},
"axis":{"orient":"top","title":null,"labels":false,"values":[0,10,20,30,40,50,60,70,80,90,100,110,120,130,140,150,160,170,180,190,200,210,220,230,240],
"tickSize":{"condition":{"test":"datum.value % 50 === 0","value":-9},"value":-5}}},
"y":{"field":"e","type":"quantitative","scale":{"domain":[-0.43,0.33],"nice":false,"zero":false},
"axis":{"orient":"right","title":null,"labels":false,"values":[-0.4,-0.3,-0.2,-0.1,0,0.1,0.2,0.3],
"tickSize":{"condition":{"test":"abs(datum.value*5-round(datum.value*5))<0.001","value":-9},"value":-5}}}
}},
{"data":{"name":"notes"},"transform":[{"filter":"datum.c==='E'"}],
"mark":{"type":"text","align":"left","baseline":"top","font":"Liberation Sans","fontSize":12,"color":"#555","lineHeight":14.5},
"encoding":{
"x":{"field":"t","type":"quantitative","scale":{"domain":[0,241.5],"nice":false,"zero":false},"axis":null},
"y":{"field":"a","type":"quantitative","scale":{"domain":[-0.43,0.33],"nice":false,"zero":false},"axis":null},
"text":{"field":"s"}}}
],
"resolve":{"axis":{"x":"independent","y":"independent"}}
}
],
"config":{
"view":{"stroke":"#888","strokeWidth":1},
"axis":{"grid":false,"domain":false,"tickColor":"#888","tickWidth":1,"labelColor":"#555","labelFont":"Liberation Sans","labelFontSize":11.5,"titleFont":"Liberation Sans","titleFontSize":12,"titleFontWeight":"normal","titleColor":"#555","labelFlush":false,"labelOverlap":false,"labelBound":false}
}
}
